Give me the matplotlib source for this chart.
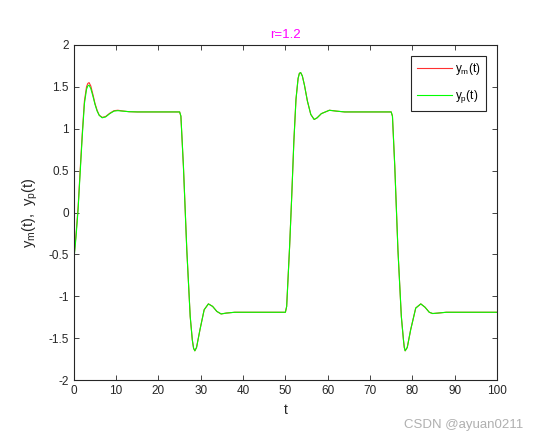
import numpy as np
import matplotlib
matplotlib.use('Agg')
import matplotlib.pyplot as plt

plt.rcParams['font.family'] = ['Liberation Sans', 'Noto Sans CJK SC', 'DejaVu Sans']
plt.rcParams['mathtext.fontset'] = 'custom'
plt.rcParams['mathtext.rm'] = 'Liberation Sans'
plt.rcParams['mathtext.it'] = 'Liberation Sans'

# plant output y_p(t)
t_p = [0, 0.5, 1.0, 1.5, 2.0, 2.5, 3.0, 3.3, 3.6, 4.0, 4.5, 5.0, 5.5, 6.0, 6.7, 7.5, 8.5, 9.5, 10.4, 11.5, 13, 15, 20,
       25.0, 25.3, 25.9, 26.7, 27.5, 28.0, 28.3, 28.6, 29.0, 29.8, 30.8, 31.8, 32.8, 33.8, 34.8, 36, 38, 45,
       50.0, 50.3, 51.0, 51.5, 52.0, 52.5, 53.0, 53.3, 53.6, 54.0, 54.5, 55.2, 56.0, 56.8, 57.5, 58.5, 60.4, 62, 64, 70,
       75.0, 75.3, 75.85, 76.6, 77.4, 77.9, 78.1, 78.3, 78.8, 79.6, 80.8, 82.0, 83.0, 84.0, 84.8, 86, 88, 100]
y_p = [-0.57, -0.30, 0.03, 0.48, 0.92, 1.30, 1.47, 1.51, 1.52, 1.48, 1.39, 1.29, 1.21, 1.16, 1.13, 1.14, 1.18, 1.21, 1.215, 1.21, 1.203, 1.2, 1.2,
       1.2, 1.15, 0.55, -0.45, -1.24, -1.52, -1.62, -1.65, -1.61, -1.40, -1.16, -1.09, -1.12, -1.18, -1.21, -1.2, -1.19, -1.19,
       -1.19, -1.12, -0.40, 0.20, 0.85, 1.35, 1.60, 1.66, 1.67, 1.63, 1.52, 1.33, 1.17, 1.11, 1.13, 1.18, 1.22, 1.21, 1.2, 1.2,
       1.2, 1.15, 0.55, -0.45, -1.24, -1.52, -1.61, -1.65, -1.61, -1.40, -1.14, -1.09, -1.13, -1.19, -1.205, -1.2, -1.19, -1.19]

# reference model output y_m(t): same as y_p except the first overshoot
t_m = t_p
y_m_start = [-0.55, -0.27, 0.06, 0.51, 0.95, 1.33, 1.50, 1.54, 1.55, 1.51, 1.41, 1.30, 1.22, 1.16, 1.135, 1.145, 1.185, 1.215, 1.22, 1.212]
y_m = y_m_start + y_p[len(y_m_start):]

xticks = [0, 10, 20, 30, 40, 50, 60, 70, 80, 90, 100]
yticks = [-2, -1.5, -1, -0.5, 0, 0.5, 1, 1.5, 2]
ytick_labels = ['-2', '-1.5', '-1', '-0.5', '0', '0.5', '1', '1.5', '2']

fig = plt.figure(figsize=(5.39, 4.40), dpi=100)
ax = fig.add_axes([0.137, 0.136, 0.785, 0.762])

ax.plot(t_m, y_m, color='#ff3030', lw=0.8, label=r'$\mathrm{y_m(t)}$')
ax.plot(t_p, y_p, color='#00ff00', lw=0.8, label=r'$\mathrm{y_p(t)}$')

ax.set_xlim(0, 100)
ax.set_ylim(-2, 2)
ax.set_xticks(xticks)
ax.set_yticks(yticks)
ax.set_yticklabels(ytick_labels)

gray = '#262626'
for s in ax.spines.values():
    s.set_color(gray)
    s.set_linewidth(0.8)
ax.tick_params(direction='in', top=True, right=True, length=3.5, width=0.6,
               colors=gray, labelsize=8.5)

ax.set_title('r=1.2', color='#ff00ff', fontsize=9.5, pad=5)
ax.set_xlabel('t', fontsize=10, color=gray)
ax.set_ylabel(r'$\mathrm{y_m(t)}$,  $\mathrm{y_p(t)}$', fontsize=10.5, color=gray, labelpad=6)

leg = ax.legend(loc='upper right', fontsize=8.5, fancybox=False, framealpha=1,
                edgecolor=gray, borderaxespad=0.9, handlelength=3.0,
                handletextpad=0.2, labelspacing=0.9, borderpad=0.5)
leg.get_frame().set_linewidth(0.8)

fig.text(0.97, 0.035, 'CSDN @ayuan0211', ha='right', va='center', fontsize=9.5, color='#b0b0b0')

plt.savefig('out.png', dpi=100)
